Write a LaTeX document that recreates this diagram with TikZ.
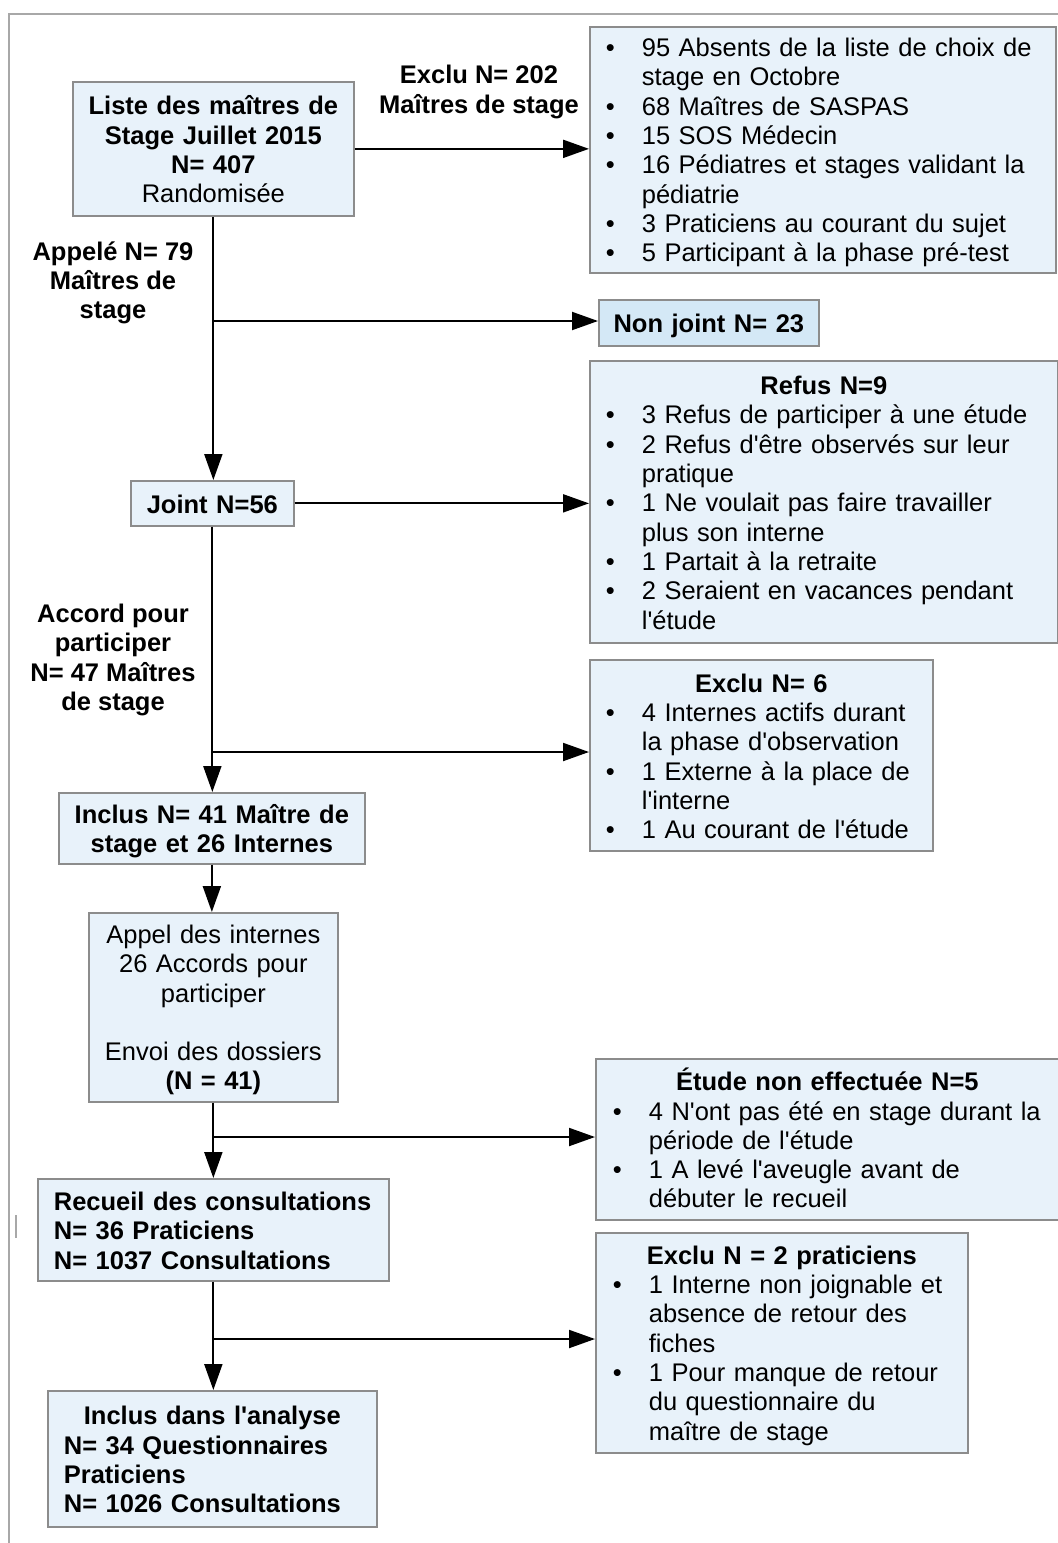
\documentclass[tikz,border=0pt]{standalone}
\usepackage{fontspec}
\setmainfont{Liberation Sans}[Ligatures=TeXOff]
\usetikzlibrary{arrows.meta}
\definecolor{boxfill}{HTML}{E8F2FA}
\definecolor{boxfillb}{HTML}{D4E8F6}
\definecolor{boxline}{HTML}{8C8C8C}
\definecolor{frameline}{HTML}{A8A8A8}
\newcommand{\sst}{\rule[-4pt]{0pt}{28pt}}
\newcommand{\bul}[1]{\mbox{\makebox[37pt][l]{\hspace{1pt}\textbullet}#1}}
\newcommand{\ind}[1]{\mbox{\hspace*{37pt}#1}}
\newcommand{\ctr}[1]{\makebox[\linewidth]{\bfseries #1}}
\tikzset{
  box/.style={draw=boxline, line width=1.7pt, fill=boxfill, inner sep=0pt,
    anchor=north west, font=\fontsize{25.5}{29.3}\selectfont,
    execute at begin node=\sst, execute at end node=\sst},
  lab/.style={inner sep=0pt, align=center, font=\fontsize{25.5}{29.3}\selectfont\bfseries,
    execute at begin node=\sst, execute at end node=\sst},
  arr/.style={line width=2pt, -{Triangle[width=18pt,length=26pt]}},
  ln/.style={line width=2pt},
}
\begin{document}
\begin{tikzpicture}[x=1pt,y=-1pt]
\useasboundingbox (0,0) rectangle (1058,1543);
% outer frame
\draw[frameline, line width=2pt] (1058,14) -- (9,14) -- (9,1543);
\draw[frameline, line width=1.5pt] (16,1215) -- (16,1238);

% boxes
\node[box, minimum width=281pt, minimum height=134pt, text width=277pt, inner xsep=2pt, align=center] (A) at (72,81)
  {\textbf{Liste des maîtres de}\\\textbf{Stage Juillet 2015}\\\textbf{N= 407}\\Randomisée};

\node[box, minimum width=466pt, minimum height=246pt, text width=436pt, inner xsep=15pt, align=left] (exlist) at (589,26)
  {\bul{95 Absents de la liste de choix de}\\
   \ind{stage en Octobre}\\
   \bul{68 Maîtres de SASPAS}\\
   \bul{15 SOS Médecin}\\
   \bul{16 Pédiatres et stages validant la}\\
   \ind{pédiatrie}\\
   \bul{3 Praticiens au courant du sujet}\\
   \bul{5 Participant à la phase pré-test}};

\node[box, fill=boxfillb, minimum width=220pt, minimum height=46pt, text width=216pt, inner xsep=2pt, align=center] (nonjoint) at (598,299)
  {\textbf{Non joint N= 23}};

\node[box, minimum width=468pt, minimum height=282pt, text width=438pt, inner xsep=15pt, align=left] (refus) at (589,360)
  {\ctr{Refus N=9}\\
   \bul{3 Refus de participer à une étude}\\
   \bul{2 Refus d'être observés sur leur}\\
   \ind{pratique}\\
   \bul{1 Ne voulait pas faire travailler}\\
   \ind{plus son interne}\\
   \bul{1 Partait à la retraite}\\
   \bul{2 Seraient en vacances pendant}\\
   \ind{l'étude}};

\node[box, minimum width=163pt, minimum height=45pt, text width=159pt, inner xsep=2pt, align=center] (joint) at (130,480)
  {\textbf{Joint N=56}};

\node[box, minimum width=343pt, minimum height=191pt, text width=313pt, inner xsep=15pt, align=left] (excl6) at (589,659)
  {\ctr{Exclu N= 6}\\
   \bul{4 Internes actifs durant}\\
   \ind{la phase d'observation}\\
   \bul{1 Externe à la place de}\\
   \ind{l'interne}\\
   \bul{1 Au courant de l'étude}};

\node[box, minimum width=306pt, minimum height=71pt, text width=302pt, inner xsep=2pt, align=center] (inclus) at (58,792)
  {\textbf{Inclus N= 41 Maître de}\\\textbf{stage et 26 Internes}};

\node[box, minimum width=249pt, minimum height=189pt, text width=245pt, inner xsep=2pt, align=center] (appel) at (88,912)
  {Appel des internes\\26 Accords pour\\participer\\\mbox{}\\Envoi des dossiers\\\textbf{(N = 41)}};

\node[box, minimum width=463pt, minimum height=161pt, text width=431pt, inner xsep=16pt, align=left] (etude) at (595,1058)
  {\ctr{Étude non effectuée N=5}\\
   \bul{4 N'ont pas été en stage durant la}\\
   \ind{période de l'étude}\\
   \bul{1 A levé l'aveugle avant de}\\
   \ind{débuter le recueil}};

\node[box, minimum width=351pt, minimum height=102pt, text width=319pt, inner xsep=16pt, align=left, font=\fontsize{25.5}{29.3}\selectfont\bfseries] (recueil) at (37,1178)
  {\mbox{Recueil des consultations}\\\mbox{N= 36 Praticiens}\\\mbox{N= 1037 Consultations}};

\node[box, minimum width=372pt, minimum height=220pt, text width=340pt, inner xsep=16pt, align=left] (excl2) at (595,1232)
  {\ctr{Exclu N = 2 praticiens}\\
   \bul{1 Interne non joignable et}\\
   \ind{absence de retour des}\\
   \ind{fiches}\\
   \bul{1 Pour manque de retour}\\
   \ind{du questionnaire du}\\
   \ind{maître de stage}};

\node[box, minimum width=329pt, minimum height=136pt, text width=297pt, inner xsep=16pt, align=left, font=\fontsize{25.5}{29.3}\selectfont\bfseries] (analyse) at (47,1390)
  {\ctr{Inclus dans l'analyse}\\\mbox{N= 34 Questionnaires}\\\mbox{Praticiens}\\\mbox{N= 1026 Consultations}};

% labels
\node[lab] (lexclu) at (479,92) {Exclu N= 202\\Maîtres de stage};
\node[lab] (lappel) at (113,283) {Appelé N= 79\\Maîtres de\\stage};
\node[lab] (laccord) at (113,660) {Accord pour\\participer\\N= 47 Maîtres\\de stage};

% branch points
\coordinate (b1) at (212.5,321);
\coordinate (b2) at (211.5,752);
\coordinate (b3) at (212.5,1137);
\coordinate (b4) at (212.5,1339);

% connectors
\draw[arr] (A.east) -- (A.east -| exlist.west);
\draw[arr] (A.south) -- (A.south |- joint.north);
\draw[arr] (b1) -- (b1 -| nonjoint.west);
\draw[arr] (joint.east) -- (joint.east -| refus.west);
\draw[arr] (joint.south) -- (joint.south |- inclus.north);
\draw[arr] (b2) -- (b2 -| excl6.west);
\draw[arr] (inclus.south) -- (inclus.south |- appel.north);
\draw[arr] (appel.south) -- (appel.south |- recueil.north);
\draw[arr] (b3) -- (b3 -| etude.west);
\draw[arr] (recueil.south) -- (recueil.south |- analyse.north);
\draw[arr] (b4) -- (b4 -| excl2.west);
\end{tikzpicture}
\end{document}
